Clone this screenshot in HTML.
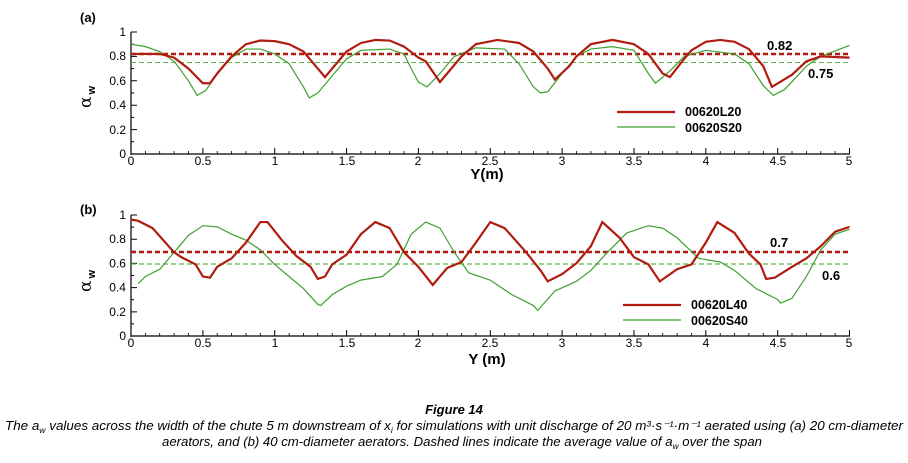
<!DOCTYPE html>
<html><head><meta charset="utf-8"><style>body{margin:0;background:#fff}svg{display:block}</style></head><body>
<svg width="908" height="463" viewBox="0 0 908 463" xmlns="http://www.w3.org/2000/svg" font-family="Liberation Sans, sans-serif">
<defs>
<g id="ax">
<line x1="131" y1="0" x2="131" y2="123" stroke="#000" stroke-width="1.2"/>
<line x1="131" y1="122" x2="850" y2="122" stroke="#000" stroke-width="1.2"/>
<path d="M131 122v-6M202.9 122v-6M274.7 122v-6M346.6 122v-6M418.4 122v-6M490.3 122v-6M562.1 122v-6M634 122v-6M705.8 122v-6M777.7 122v-6M849.5 122v-6" stroke="#000" stroke-width="1"/>
<path d="M145.4 122v-3M159.7 122v-3M174.1 122v-3M188.5 122v-3M217.2 122v-3M231.6 122v-3M246 122v-3M260.3 122v-3M289.1 122v-3M303.5 122v-3M317.8 122v-3M332.2 122v-3M360.9 122v-3M375.3 122v-3M389.7 122v-3M404 122v-3M432.8 122v-3M447.2 122v-3M461.5 122v-3M475.9 122v-3M504.7 122v-3M519 122v-3M533.4 122v-3M547.8 122v-3M576.5 122v-3M590.9 122v-3M605.2 122v-3M619.6 122v-3M648.4 122v-3M662.7 122v-3M677.1 122v-3M691.5 122v-3M720.2 122v-3M734.6 122v-3M748.9 122v-3M763.3 122v-3M792 122v-3M806.4 122v-3M820.8 122v-3M835.1 122v-3" stroke="#000" stroke-width="0.8"/>
<path d="M131 0h6M131 24.4h6M131 48.8h6M131 73.2h6M131 97.6h6M131 12.2h3M131 36.6h3M131 61h3M131 85.4h3M131 109.8h3" stroke="#000" stroke-width="1"/>
<g font-size="12" text-anchor="middle">
<text x="131" y="133">0</text><text x="203" y="133">0.5</text><text x="275" y="133">1</text><text x="347" y="133">1.5</text><text x="418" y="133">2</text><text x="490" y="133">2.5</text><text x="562" y="133">3</text><text x="634" y="133">3.5</text><text x="706" y="133">4</text><text x="778" y="133">4.5</text><text x="849" y="133">5</text>
</g>
<g font-size="12" text-anchor="end">
<text x="126" y="126">0</text><text x="126" y="102">0.2</text><text x="126" y="77">0.4</text><text x="126" y="53">0.6</text><text x="126" y="28">0.8</text><text x="126" y="4">1</text>
</g>
</g>
</defs>

<!-- Panel a -->
<text x="80" y="22" font-size="13" font-weight="bold">(a)</text>
<use href="#ax" transform="translate(0,32)"/>
<text transform="translate(91,108) rotate(-90)" font-size="17" font-family="DejaVu Serif, serif">α<tspan font-size="11" dx="2" dy="4" font-family="Liberation Sans" font-weight="bold">w</tspan></text>
<text x="487" y="179" font-size="15" font-weight="bold" text-anchor="middle">Y(m)</text>
<line x1="131" y1="54" x2="850" y2="54" stroke="#b01c10" stroke-width="2.5" stroke-dasharray="5,3"/>
<line x1="131" y1="62.5" x2="850" y2="62.5" stroke="#5fb548" stroke-width="1" stroke-dasharray="5,3"/>
<g transform="translate(131,154) scale(143.7,-122)" fill="none">
<polyline vector-effect="non-scaling-stroke" stroke="#3fa030" stroke-width="1.2" points="0,0.9 0.1,0.88 0.2,0.84 0.3,0.76 0.4,0.6 0.46,0.48 0.52,0.52 0.6,0.66 0.7,0.79 0.8,0.86 0.9,0.86 1.0,0.82 1.1,0.74 1.2,0.55 1.24,0.46 1.3,0.5 1.4,0.64 1.5,0.78 1.6,0.85 1.8,0.86 1.9,0.82 1.95,0.7 2.0,0.59 2.06,0.55 2.15,0.66 2.25,0.8 2.4,0.87 2.6,0.86 2.7,0.74 2.8,0.55 2.85,0.5 2.9,0.51 3.0,0.66 3.1,0.8 3.2,0.86 3.35,0.88 3.5,0.85 3.6,0.66 3.65,0.58 3.75,0.68 3.85,0.8 4.0,0.85 4.2,0.82 4.3,0.74 4.4,0.56 4.47,0.48 4.55,0.53 4.7,0.72 4.8,0.8 5.0,0.89"/>
<polyline vector-effect="non-scaling-stroke" stroke="#b01c10" stroke-width="2.2" points="0,0.82 0.2,0.82 0.3,0.79 0.4,0.7 0.5,0.58 0.55,0.58 0.6,0.66 0.7,0.8 0.8,0.9 0.9,0.93 1.0,0.925 1.1,0.9 1.2,0.84 1.3,0.7 1.35,0.63 1.4,0.7 1.5,0.84 1.6,0.91 1.7,0.935 1.8,0.93 1.9,0.88 2.0,0.79 2.05,0.76 2.15,0.59 2.2,0.66 2.3,0.8 2.4,0.9 2.55,0.935 2.7,0.91 2.8,0.84 2.9,0.7 2.95,0.61 3.05,0.72 3.1,0.8 3.2,0.9 3.35,0.935 3.5,0.9 3.6,0.82 3.7,0.66 3.75,0.63 3.85,0.78 3.9,0.85 4.0,0.92 4.1,0.935 4.2,0.92 4.3,0.86 4.4,0.72 4.46,0.55 4.6,0.65 4.7,0.76 4.8,0.8 5.0,0.79"/>
</g>
<text x="767" y="50" font-size="13" font-weight="bold">0.82</text>
<text x="808" y="78" font-size="13" font-weight="bold">0.75</text>
<line x1="617" y1="112" x2="675" y2="112" stroke="#b01c10" stroke-width="2.2"/>
<line x1="617" y1="127" x2="675" y2="127" stroke="#3fa030" stroke-width="1.2"/>
<text x="685" y="116" font-size="12.5" font-weight="bold">00620L20</text>
<text x="685" y="132" font-size="12.5" font-weight="bold">00620S20</text>

<!-- Panel b -->
<text x="80" y="214" font-size="13" font-weight="bold">(b)</text>
<use href="#ax" transform="translate(0,215) scale(1,0.992)"/>
<text transform="translate(91,292) rotate(-90)" font-size="17" font-family="DejaVu Serif, serif">α<tspan font-size="11" dx="2" dy="4" font-family="Liberation Sans" font-weight="bold">w</tspan></text>
<text x="487" y="364" font-size="15" font-weight="bold" text-anchor="middle">Y (m)</text>
<line x1="131" y1="252" x2="850" y2="252" stroke="#b01c10" stroke-width="2.5" stroke-dasharray="5,3"/>
<line x1="131" y1="264" x2="850" y2="264" stroke="#5fb548" stroke-width="1.2" stroke-dasharray="5,3"/>
<g transform="translate(131,337) scale(143.7,-121)" fill="none">
<polyline vector-effect="non-scaling-stroke" stroke="#3fa030" stroke-width="1.2" points="0.05,0.44 0.1,0.5 0.2,0.56 0.3,0.7 0.4,0.84 0.5,0.92 0.6,0.91 0.7,0.85 0.8,0.8 0.9,0.72 1.0,0.6 1.1,0.5 1.2,0.4 1.3,0.27 1.32,0.26 1.4,0.35 1.5,0.42 1.6,0.47 1.75,0.5 1.85,0.6 1.95,0.85 2.05,0.95 2.15,0.9 2.25,0.7 2.35,0.53 2.5,0.47 2.65,0.35 2.8,0.26 2.83,0.22 2.95,0.38 3.1,0.46 3.2,0.55 3.3,0.68 3.45,0.86 3.6,0.92 3.7,0.9 3.8,0.82 3.95,0.65 4.1,0.62 4.2,0.55 4.35,0.4 4.5,0.31 4.52,0.28 4.6,0.32 4.7,0.5 4.8,0.72 4.9,0.85 5.0,0.89"/>
<polyline vector-effect="non-scaling-stroke" stroke="#b01c10" stroke-width="2.2" points="0,0.97 0.05,0.96 0.15,0.9 0.3,0.7 0.35,0.66 0.45,0.6 0.5,0.5 0.55,0.49 0.6,0.58 0.7,0.65 0.8,0.78 0.9,0.95 0.95,0.95 1.05,0.8 1.15,0.67 1.25,0.58 1.3,0.48 1.35,0.5 1.4,0.6 1.5,0.68 1.6,0.85 1.7,0.95 1.8,0.9 1.9,0.7 2.0,0.58 2.1,0.43 2.2,0.57 2.3,0.62 2.4,0.78 2.5,0.95 2.6,0.9 2.75,0.7 2.85,0.55 2.9,0.46 3.0,0.52 3.1,0.61 3.2,0.75 3.28,0.95 3.4,0.82 3.5,0.66 3.6,0.6 3.68,0.46 3.8,0.56 3.9,0.6 4.0,0.78 4.08,0.95 4.2,0.86 4.3,0.69 4.38,0.6 4.42,0.48 4.48,0.49 4.6,0.58 4.7,0.65 4.8,0.75 4.9,0.87 5.0,0.91"/>
</g>
<text x="770" y="247" font-size="13" font-weight="bold">0.7</text>
<text x="822" y="280" font-size="13" font-weight="bold">0.6</text>
<line x1="623" y1="305" x2="681" y2="305" stroke="#b01c10" stroke-width="2.2"/>
<line x1="623" y1="320" x2="681" y2="320" stroke="#3fa030" stroke-width="1.2"/>
<text x="691" y="309" font-size="12.5" font-weight="bold">00620L40</text>
<text x="691" y="325" font-size="12.5" font-weight="bold">00620S40</text>

<!-- Caption -->
<text x="454" y="414" font-size="13" font-style="italic" font-weight="bold" text-anchor="middle">Figure 14</text>
<text x="5" y="430" font-size="12.5" font-style="italic" textLength="898" lengthAdjust="spacingAndGlyphs">The a<tspan font-size="8" dy="3">w</tspan><tspan dy="-3"> values across the width of the chute 5 m downstream of x</tspan><tspan font-size="8" dy="3">i</tspan><tspan dy="-3"> for simulations with unit discharge of 20 m³·s⁻¹·m⁻¹ aerated using (a) 20 cm-diameter</tspan></text>
<text x="162" y="446" font-size="12.5" font-style="italic" textLength="600" lengthAdjust="spacingAndGlyphs">aerators, and (b) 40 cm-diameter aerators. Dashed lines indicate the average value of a<tspan font-size="8" dy="3">w</tspan><tspan dy="-3"> over the span</tspan></text>
</svg>
</body></html>
